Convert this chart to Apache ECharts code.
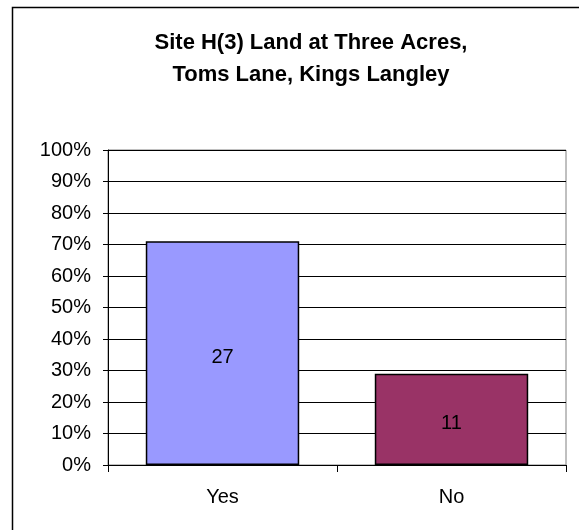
<!DOCTYPE html>
<html>
<head>
<meta charset="utf-8">
<style>html,body{margin:0;padding:0;background:#fff;}#c{width:579px;height:530px;}</style>
<script src="https://cdn.jsdelivr.net/npm/echarts@6/dist/echarts.min.js"></script>
</head>
<body>
<div id="c"></div>
<script>
const titleText = "Site H(3) Land at Three Acres,\nToms Lane, Kings Langley";
const categories = ["Yes", "No"];
const counts = [27, 11];
const barColors = ["#9999FF", "#993366"];
const yTicks = [0, 10, 20, 30, 40, 50, 60, 70, 80, 90, 100];

const total = counts.reduce((a, b) => a + b, 0);
const seriesData = counts.map((c, i) => ({
  value: c / total * 100,
  count: c,
  itemStyle: { color: barColors[i] }
}));

const chart = echarts.init(document.getElementById('c'), null, { renderer: 'canvas' });
const font = '"Liberation Sans", Arial, sans-serif';
chart.setOption({
  animation: false,
  backgroundColor: '#fff',
  title: {
    text: titleText,
    left: 306,
    top: 22,
    textAlign: 'center',
    textStyle: { fontFamily: font, fontSize: 22, fontWeight: 'bold', color: '#000', lineHeight: 32 }
  },
  graphic: [{
    type: 'rect',
    shape: { x: 12.5, y: 7.5, width: 620, height: 600 },
    style: { fill: 'none', stroke: '#000', lineWidth: 1.5 },
    silent: true
  }],
  grid: { left: 108, top: 150, width: 458, height: 315, show: true, borderColor: '#808080', borderWidth: 1, containLabel: false },
  xAxis: {
    type: 'category',
    data: categories,
    axisLine: { lineStyle: { color: '#000', width: 1 } },
    axisTick: { show: true, length: 7, lineStyle: { color: '#000' } },
    axisLabel: { fontFamily: font, fontSize: 20, color: '#000', margin: 22 },
    splitLine: { show: false }
  },
  yAxis: {
    type: 'value',
    min: yTicks[0],
    max: yTicks[yTicks.length - 1],
    interval: 10,
    axisLine: { show: true, lineStyle: { color: '#000', width: 1 } },
    axisTick: { show: true, length: 5, lineStyle: { color: '#000' } },
    axisLabel: { fontFamily: font, fontSize: 20, color: '#000', margin: 17, formatter: '{value}%' },
    splitLine: { show: true, lineStyle: { color: '#000', width: 1 } }
  },
  series: [{
    type: 'bar',
    data: seriesData,
    barCategoryGap: '33%',
    itemStyle: { borderColor: '#000', borderWidth: 1.5 },
    label: {
      show: true,
      position: 'inside',
      offset: [0, 4],
      fontFamily: font,
      fontSize: 20,
      color: '#000',
      formatter: p => String(p.data.count)
    }
  }]
});
</script>
</body>
</html>
